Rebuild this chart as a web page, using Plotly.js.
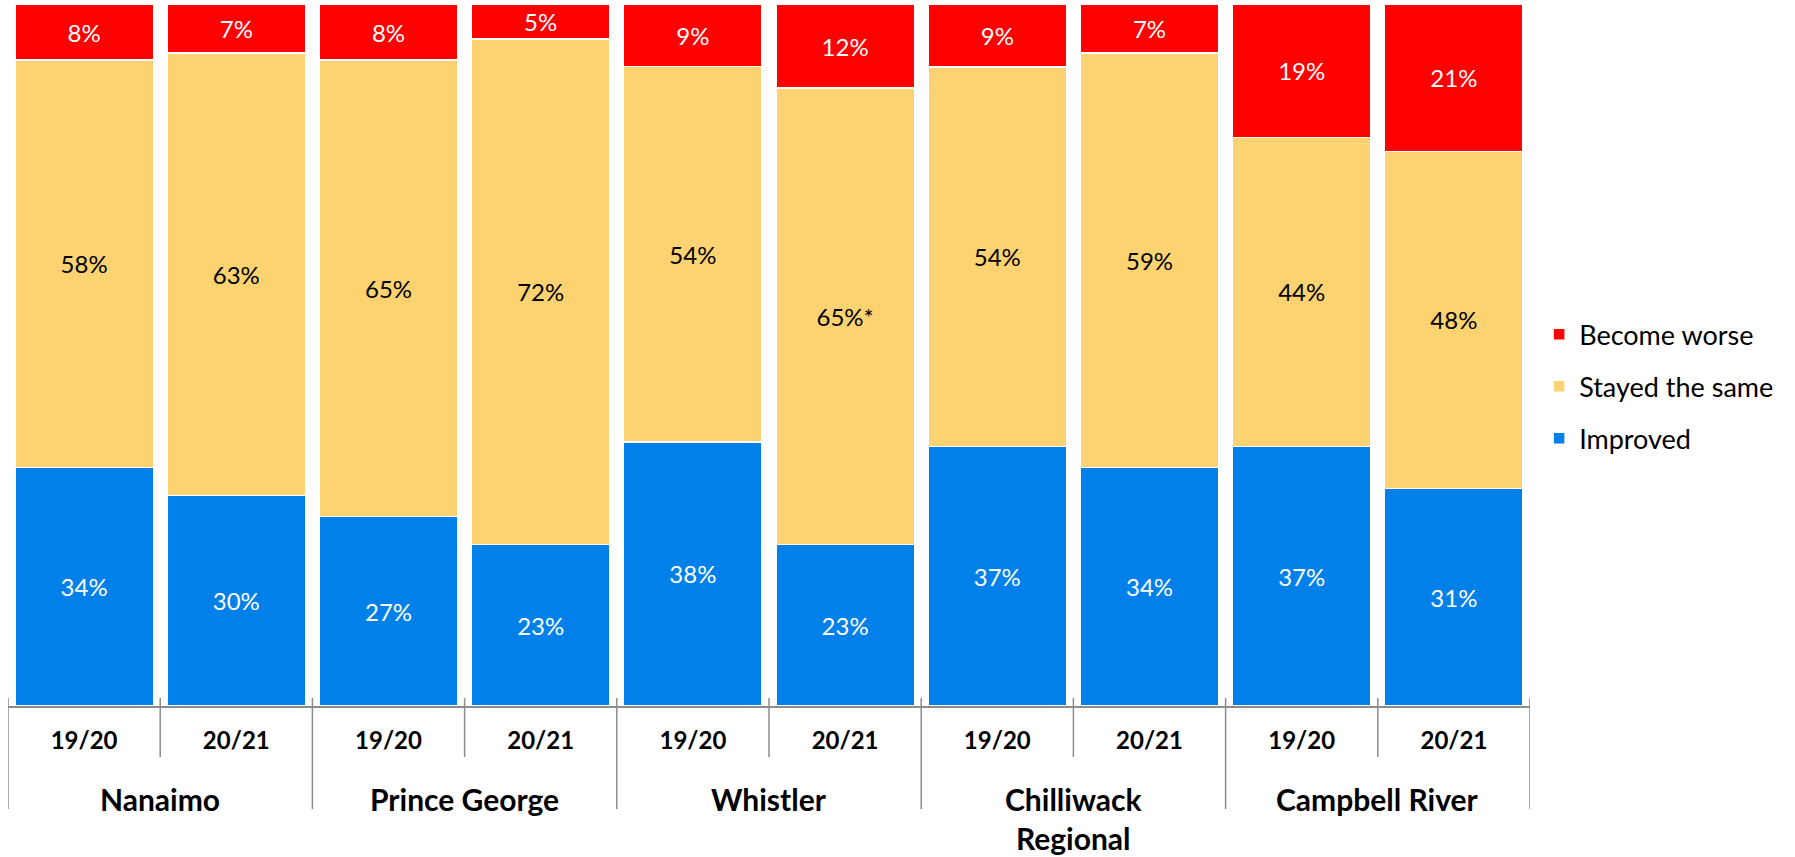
<!DOCTYPE html>
<html>
<head>
<meta charset="utf-8">
<script src="https://cdn.plot.ly/plotly-3.0.1.min.js"></script>
<style>html,body{margin:0;padding:0;background:#fff;}#chart{width:1795px;height:857px;}</style>
</head>
<body>
<div id="chart"></div>
<script>
const cities = ['Nanaimo', 'Prince George', 'Whistler', 'Chilliwack<br>Regional', 'Campbell River'];
const periods = ['19/20', '20/21'];
const improved = [34, 30, 27, 23, 38, 23, 37, 34, 37, 31];
const stayed = [58, 63, 65, 72, 54, 65, 54, 59, 44, 48];
const worse = [8, 7, 8, 5, 9, 12, 9, 7, 19, 21];
const stayedNotes = ['', '', '', '', '', '*', '', '', '', ''];
const seriesNames = ['Improved', 'Stayed the same', 'Become worse'];

// build category keys (one slot per city/period)
const keys = [], periodLabels = [];
cities.forEach((c, ci) => periods.forEach(p => { keys.push(ci + '|' + p); periodLabels.push(p); }));

const FONT = 'Lato, "Open Sans", "DejaVu Sans", sans-serif';
const colors = ['#0080E8', '#FDD372', '#FF0000'];
const textColors = ['#ffffff', '#000000', '#ffffff'];
const series = [improved, stayed, worse];
const notes = [null, stayedNotes, null];
const ranks = [3, 2, 1];

const traces = series.map((vals, i) => ({
  type: 'bar',
  name: seriesNames[i],
  x: keys,
  y: vals,
  text: vals.map((v, k) => v + '%' + (notes[i] ? notes[i][k] : '')),
  textposition: 'inside',
  insidetextanchor: 'middle',
  textangle: 0,
  constraintext: 'none',
  textfont: {family: FONT, size: 24, color: textColors[i]},
  marker: {color: colors[i], line: {color: '#ffffff', width: 1.5}},
  legendgroup: 'g' + i,
  legendrank: ranks[i],
  hoverinfo: 'none'
}));

// plot geometry helpers (paper units)
const plotH = 857 - 4 - 151;
const px = v => v / plotH;

const nSlots = keys.length;
const per = periods.length;
const shapes = [];
for (let b = 0; b <= nSlots; b++) {
  const isGroup = b % per === 0;
  shapes.push({
    type: 'line', xref: 'x', yref: 'paper',
    x0: b - 0.5, x1: b - 0.5,
    y0: px(8), y1: isGroup ? -px(103) : -px(51),
    line: {color: '#8c8c8c', width: 1.5}
  });
}

const annotations = cities.map((c, ci) => ({
  xref: 'x', yref: 'paper',
  x: ci * per + (per - 1) / 2,
  y: -px(73),
  yanchor: 'top', xanchor: 'center',
  text: '<b>' + c + '</b>',
  showarrow: false,
  font: {family: FONT, size: 30, color: '#000000'}
}));

const layout = {
  width: 1795, height: 857,
  margin: {l: 8, r: 265, t: 4, b: 151},
  paper_bgcolor: '#ffffff', plot_bgcolor: '#ffffff',
  barmode: 'stack',
  barnorm: 'percent',
  bargap: 0.09,
  font: {family: FONT, color: '#000000'},
  xaxis: {
    type: 'category',
    categoryorder: 'array', categoryarray: keys,
    tickmode: 'array', tickvals: keys, ticktext: periodLabels,
    showline: true, linecolor: '#8c8c8c', linewidth: 1.5,
    ticks: '', ticklabelstandoff: 13,
    tickfont: {family: FONT, size: 24, color: '#000000', weight: 'bold'},
    showgrid: false, zeroline: false, range: [-0.5, nSlots - 0.5]
  },
  yaxis: {visible: false, range: [0, 100], showgrid: false, zeroline: false},
  legend: {
    x: 1.006, xanchor: 'left', y: 0.455, yanchor: 'middle',
    traceorder: 'grouped', tracegroupgap: 14,
    font: {family: FONT, size: 27, color: '#000000'},
    bgcolor: 'rgba(0,0,0,0)'
  },
  shapes: shapes,
  annotations: annotations,
  showlegend: true
};

Plotly.newPlot('chart', traces, layout, {displayModeBar: false, staticPlot: true});
</script>
</body>
</html>
